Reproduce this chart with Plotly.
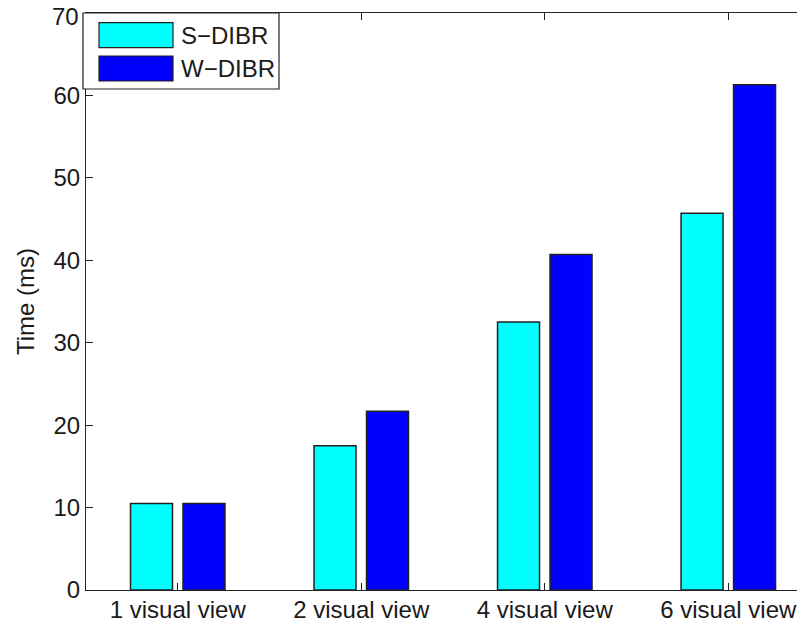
import plotly.graph_objects as go

categories = ["1 visual view", "2 visual view", "4 visual view", "6 visual view"]
s_dibr = [10.5, 17.5, 32.5, 45.7]
w_dibr = [10.5, 21.7, 40.7, 61.3]
y_ticks = [0, 10, 20, 30, 40, 50, 60, 70]
series_names = ["S\u2212DIBR", "W\u2212DIBR"]
series_colors = ["#00FFFF", "#0000FF"]

OFF = 8  # page body margin offset
W, H = 805 - OFF, 621 - OFF
ML, MT, MB, MR = 86 - OFF, 13 - OFF, 31, 0
PW, PH = W - ML - MR, H - MT - MB
FONT = "Arial, Liberation Sans, sans-serif"
TXT = "#1a1a1a"
FS = 24

def px2paper(x, y):
    # x, y in reference-screenshot pixels
    x -= OFF
    y -= OFF
    return (x - ML) / PW, (H - MB - y) / PH

fig = go.Figure()
for name, vals, col in zip(series_names, [s_dibr, w_dibr], series_colors):
    fig.add_trace(go.Bar(
        x=categories, y=vals, name=name,
        marker=dict(color=col, line=dict(color="#222222", width=1.5)),
        showlegend=False,
    ))

# manual MATLAB-style legend
shapes = []
annotations = []
x0, y0 = px2paper(83, 13)
x1, y1 = px2paper(279, 89)
shapes.append(dict(type="rect", xref="paper", yref="paper", x0=x0, y0=y1, x1=x1, y1=y0,
                   fillcolor="white", line=dict(color="#222222", width=1.2), layer="above"))
rows = [(22.7, 47.7), (56, 81)]
for (ya, yb), name, col in zip(rows, series_names, series_colors):
    sx0, sy0 = px2paper(99, ya)
    sx1, sy1 = px2paper(173, yb)
    shapes.append(dict(type="rect", xref="paper", yref="paper", x0=sx0, y0=sy1, x1=sx1, y1=sy0,
                       fillcolor=col, line=dict(color="#222222", width=1.2), layer="above"))
    tx, ty = px2paper(179, (ya + yb) / 2)
    annotations.append(dict(xref="paper", yref="paper", x=tx, y=ty, text=name, showarrow=False,
                            xanchor="left", yanchor="middle",
                            font=dict(family=FONT, size=FS, color=TXT)))

# top tick label (would be hidden by plotly at the figure edge)
annotations.append(dict(xref="paper", yref="y", x=0, y=y_ticks[-1], text=str(y_ticks[-1]),
                        showarrow=False, xanchor="right", yanchor="middle", xshift=-5, yshift=-3,
                        font=dict(family=FONT, size=FS, color=TXT)))

fig.update_layout(
    width=W, height=H,
    margin=dict(l=ML, r=MR, t=MT, b=MB, autoexpand=False),
    paper_bgcolor="white", plot_bgcolor="white",
    barmode="group", bargap=0.428, bargroupgap=0.2,
    font=dict(family=FONT, size=FS, color=TXT),
    shapes=shapes, annotations=annotations,
)
fig.update_xaxes(
    type="category", range=[-0.5, 3.418],
    showline=True, linecolor="#222222", linewidth=1.2, mirror="ticks",
    ticks="inside", ticklen=7, tickcolor="#222222", tickwidth=1.2,
    showgrid=False, zeroline=False, ticklabelstandoff=-2,
    tickfont=dict(family=FONT, size=FS, color=TXT),
)
fig.update_yaxes(
    range=[y_ticks[0], y_ticks[-1]], tickvals=y_ticks[:-1],
    showline=True, linecolor="#222222", linewidth=1.2,
    ticks="inside", ticklen=7, tickcolor="#222222", tickwidth=1.2,
    showgrid=False, zeroline=False,
    tickfont=dict(family=FONT, size=FS, color=TXT),
    title=dict(text="Time (ms)", font=dict(family=FONT, size=FS, color=TXT), standoff=11),
    automargin=False,
)
fig.write_html("out.html")
